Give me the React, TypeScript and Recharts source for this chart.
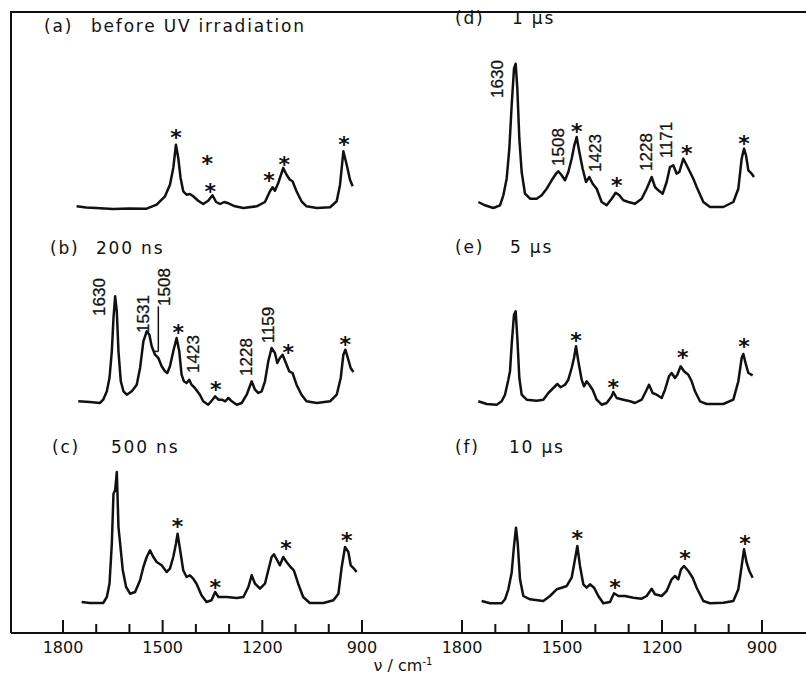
import React from 'react';
import { ComposedChart, Line, XAxis, YAxis, ReferenceDot, ReferenceLine } from 'recharts';

// ---------- data: [wavenumber cm-1, relative intensity] ----------
const spectrumA: [number, number][] = [
  [1759, 1.7], [1730, 0.5], [1700, 0], [1650, -1], [1600, -0.5], [1548, -0.7], [1518, 3.3], [1493, 11.7],
  [1478, 23.3], [1468, 40], [1460, 63.3], [1453, 50], [1446, 30], [1438, 16.7], [1428, 13.3], [1418, 14],
  [1408, 11.7], [1393, 7.3], [1378, 4], [1363, 7.3], [1350, 12.7], [1339, 6], [1327, 4], [1315, 6],
  [1302, 4.7], [1282, 1.7], [1257, 0], [1217, 1.7], [1192, 6], [1177, 16.7], [1169, 20.7], [1162, 17.3],
  [1152, 25], [1137, 40], [1127, 33.3], [1117, 28.3], [1109, 26.7], [1097, 16.7], [1082, 6.7], [1067, 1.7],
  [1036, 0], [996, 0.7], [976, 6.7], [966, 23.3], [956, 56.7], [946, 43.3], [936, 28.3], [928, 21.7],
];
const spectrumB: [number, number][] = [
  [1754, 1.7], [1719, 1], [1689, 0], [1679, 3.3], [1668, 11.7], [1660, 25], [1653, 51.7], [1648, 85],
  [1643, 106.7], [1638, 91.7], [1633, 51.7], [1626, 21.7], [1618, 11.7], [1608, 8.3], [1593, 11.7], [1578, 18.3],
  [1568, 35], [1558, 61.7], [1548, 71.7], [1540, 68.3], [1533, 56.7], [1523, 48.3], [1513, 45], [1503, 36.7],
  [1493, 31.7], [1486, 30], [1478, 36.7], [1468, 51.7], [1458, 65], [1450, 51.7], [1443, 28.3], [1436, 21.7],
  [1428, 20], [1420, 23.3], [1413, 18.3], [1403, 15], [1388, 8.3], [1378, 1.7], [1363, -1.7], [1350, 3.3],
  [1342, 6.7], [1332, 3.3], [1322, 3.3], [1312, 1.7], [1302, 5], [1292, 1.7], [1277, -1.7], [1262, 0],
  [1247, 8.3], [1232, 21.7], [1222, 13.3], [1212, 10], [1202, 11.7], [1192, 21.7], [1182, 41.7], [1172, 55],
  [1162, 50], [1155, 40], [1147, 45], [1139, 48.3], [1129, 40], [1119, 31.7], [1109, 30], [1097, 18.3],
  [1082, 8.3], [1067, 1.7], [1036, 0], [996, 1.7], [976, 8.3], [964, 25], [956, 48.3], [950, 53.3],
  [944, 46.7], [934, 35], [926, 31],
];
const spectrumC: [number, number][] = [
  [1744, 0], [1719, -1], [1679, -1], [1668, 5], [1660, 18.3], [1653, 58.3], [1648, 108.3], [1643, 111.7],
  [1638, 130], [1633, 75], [1628, 58.3], [1620, 31.7], [1610, 15], [1598, 8.3], [1583, 10], [1568, 21.7],
  [1558, 35], [1548, 45], [1538, 51.7], [1528, 45], [1518, 40], [1503, 36.7], [1488, 30], [1478, 33.3],
  [1468, 45], [1460, 58.3], [1455, 68.3], [1448, 53.3], [1438, 31.7], [1428, 25], [1418, 26.7], [1408, 23.3],
  [1398, 18.3], [1383, 6.7], [1368, 0], [1353, 1.7], [1342, 10], [1332, 5], [1307, 5], [1277, 4],
  [1257, 5], [1242, 15], [1232, 26.7], [1222, 18.3], [1207, 13.3], [1192, 18.3], [1182, 31.7], [1172, 45],
  [1165, 47.7], [1155, 41.7], [1147, 36.7], [1137, 45], [1127, 40], [1115, 35], [1105, 31.7], [1092, 18.3],
  [1077, 5], [1057, -1], [1016, -1], [986, 1.7], [971, 8.3], [961, 35], [951, 55], [941, 50],
  [934, 36.7], [924, 33.3], [916, 30],
];
const spectrumD: [number, number][] = [
  [1751, 5], [1731, 1.7], [1706, -1], [1686, 1.7], [1676, 11.7], [1666, 28.3], [1658, 58.3], [1651, 101.7],
  [1644, 138.3], [1639, 143.3], [1634, 118.3], [1628, 68.3], [1621, 35], [1611, 13.3], [1596, 8.3], [1576, 8.3],
  [1561, 11.7], [1546, 18.3], [1531, 26.7], [1518, 33.3], [1511, 35.7], [1501, 31.7], [1491, 26.7], [1481, 35],
  [1471, 48.3], [1463, 61.7], [1456, 70], [1448, 55], [1438, 38.3], [1428, 25], [1418, 30], [1408, 23.3],
  [1396, 18.3], [1381, 5], [1366, 1.7], [1351, 8.3], [1339, 14.3], [1328, 11.7], [1316, 6.7], [1301, 5],
  [1281, 3.3], [1261, 8.3], [1246, 18.3], [1231, 30], [1221, 20], [1211, 16.7], [1198, 13.3], [1186, 25],
  [1176, 40], [1166, 41.7], [1156, 33.3], [1148, 35], [1136, 48.3], [1126, 41.7], [1116, 35], [1106, 28.3],
  [1096, 20], [1076, 5], [1056, 0], [1016, 0], [986, 5], [971, 18.3], [961, 48.3], [954, 58.3],
  [948, 51.7], [941, 36.7], [931, 33.3], [924, 30],
];
const spectrumE: [number, number][] = [
  [1751, 1.7], [1726, -1], [1696, -1.7], [1681, 1.7], [1671, 8.3], [1661, 23.3], [1656, 31.7], [1651, 58.3],
  [1644, 88.3], [1639, 91.7], [1634, 65], [1628, 25], [1621, 8.3], [1606, 3.3], [1576, 2.3], [1556, 3.3],
  [1541, 10], [1526, 15], [1514, 19], [1504, 15.7], [1491, 18.3], [1481, 23.3], [1471, 35], [1464, 45],
  [1458, 56.7], [1451, 41.7], [1441, 23.3], [1434, 16.7], [1426, 21.7], [1418, 18.3], [1408, 13.3], [1396, 3.3],
  [1381, -1.7], [1366, 0], [1351, 6.7], [1346, 11], [1336, 5], [1316, 3.3], [1296, 1.7], [1281, 0],
  [1261, 3.3], [1246, 13.3], [1239, 18.3], [1228, 10], [1216, 8.3], [1201, 5], [1191, 13.3], [1179, 26.7],
  [1171, 30], [1161, 25], [1154, 28.3], [1144, 36.7], [1134, 31.7], [1121, 28.3], [1111, 21.7], [1101, 11.7],
  [1086, 1.7], [1066, -1], [1016, -1], [986, 3.3], [971, 21.7], [961, 45], [956, 49], [948, 38.3],
  [941, 30], [928, 27.7],
];
const spectrumF: [number, number][] = [
  [1741, 1], [1716, -1.3], [1681, -1.3], [1671, 2.7], [1661, 12.7], [1651, 29.3], [1644, 56], [1638, 74.3],
  [1633, 59.3], [1626, 22.7], [1616, 6], [1596, 2.7], [1556, 1], [1536, 6], [1516, 12.7], [1501, 14.3],
  [1486, 16], [1471, 24.3], [1461, 42.7], [1454, 56], [1446, 36], [1436, 17.7], [1426, 14.3], [1416, 17.7],
  [1404, 14.3], [1391, 6], [1376, -1.3], [1356, 0], [1344, 8.7], [1331, 6], [1311, 6], [1286, 4.3],
  [1261, 3.3], [1246, 6], [1231, 13.3], [1221, 7.7], [1201, 6], [1186, 11], [1171, 22.7], [1161, 26],
  [1151, 22.7], [1143, 32.7], [1134, 36], [1121, 31], [1108, 24.3], [1096, 14.3], [1076, 1], [1056, -1.3],
  [1016, -0.7], [986, 1], [971, 12.7], [961, 36], [954, 52.7], [946, 39.3], [938, 31], [928, 24.3],
];

// solvent bands marked with asterisks: [wavenumber, level of the mark]
const starsA: [number, number][] = [[1460, 75], [1366, 49], [1357, 21], [1180, 31.7], [1134, 48.3], [954, 68.3]];
const starsB: [number, number][] = [[1453, 75], [1340, 18.3], [1122, 55], [950, 63.3]];
const starsC: [number, number][] = [[1455, 80], [1342, 19], [1129, 58.3], [946, 65.7]];
const starsD: [number, number][] = [[1456, 80], [1336, 25.7], [1126, 58.3], [954, 68.3]];
const starsE: [number, number][] = [[1458, 66.7], [1346, 20], [1138, 50], [954, 61]];
const starsF: [number, number][] = [[1454, 67.7], [1341, 19.3], [1131, 47.7], [951, 62.7]];

// peak labels: [text, wavenumber, level]
const peaksB: [string, number, number][] = [
  ['1630', 1689, 106], ['1531', 1558, 89], ['1508', 1493, 116], ['1423', 1406, 49], ['1228', 1248, 46], ['1159', 1181, 78],
];
const peaksD: [string, number, number][] = [
  ['1630', 1695, 128], ['1508', 1510, 60], ['1423', 1401, 54], ['1228', 1246, 55], ['1171', 1187, 67],
];
// leader for the 1508 label in (b): [[nu, level], ...]
const leaderB: [number, number][] = [[1513, 96.6], [1513, 51.6], [1525, 51.6]];

const axisTicks = [1800, 1700, 1600, 1500, 1400, 1300, 1200, 1100, 1000, 900];
const majorTicks = [1800, 1500, 1200, 900];

const titles = [
  { tag: '(a)', text: 'before UV irradiation' },
  { tag: '(b)', text: '200 ns' },
  { tag: '(c)', text: '500 ns' },
  { tag: '(d)', text: '1 \u00b5s' },
  { tag: '(e)', text: '5 \u00b5s' },
  { tag: '(f)', text: '10 \u00b5s' },
];

// ---------- layout ----------
const INK = '#111';
const PLOT_ABOVE = 200;
const PLOT_BELOW = 31;
const AXIS_H = 44;
const COL_LEFT = [0, 403];
const COL_MARGIN = [11, 0];
const COL_DOMAIN: [number, number][] = [[776.5, 1956.5], [768, 1977]];

const AxisTick = (props: any) => {
  const { x, y, payload } = props;
  const v = payload.value;
  const major = majorTicks.includes(v);
  return (
    <g>
      <line x1={x} x2={x} y1={y} y2={y - (major ? 13 : 9)} stroke={INK} strokeWidth={2} />
      {major && (
        <text x={x} y={y + 20} textAnchor="middle" fontFamily="'DejaVu Sans', sans-serif" fontSize={16} fill={INK}>
          {v}
        </text>
      )}
    </g>
  );
};

type PanelProps = {
  data: [number, number][];
  stars: [number, number][];
  peaks?: [string, number, number][];
  leader?: [number, number][];
  col: number;
  base: number;
  showAxis: boolean;
};

function Panel({ data, stars, peaks = [], leader, col, base, showAxis }: PanelProps) {
  const rows = data.map(([nu, i]) => ({ nu, i }));
  const h = PLOT_ABOVE + PLOT_BELOW + (showAxis ? AXIS_H : 0);
  return (
    <div style={{ position: 'absolute', left: COL_LEFT[col], top: base - PLOT_ABOVE, width: 403, height: h }}>
      <ComposedChart
        width={403}
        height={h}
        data={rows}
        margin={{ top: 0, right: 0, bottom: 0, left: COL_MARGIN[col] }}
      >
        <XAxis
          dataKey="nu"
          type="number"
          domain={COL_DOMAIN[col]}
          reversed
          allowDataOverflow
          ticks={axisTicks}
          interval={0}
          hide={!showAxis}
          height={AXIS_H}
          tickSize={0}
          tickMargin={0}
          tickLine={false}
          axisLine={{ stroke: INK, strokeWidth: 2 }}
          tick={(p: any) => <AxisTick {...p} />}
        />
        <YAxis hide type="number" domain={[-PLOT_BELOW, PLOT_ABOVE]} allowDataOverflow />
        <Line
          dataKey="i"
          type="linear"
          dot={false}
          stroke={INK}
          strokeWidth={2.5}
          strokeLinejoin="round"
          isAnimationActive={false}
        />
        {leader &&
          leader.slice(1).map((pt, k) => (
            <ReferenceLine
              key={'ld' + k}
              segment={[
                { x: leader[k][0], y: leader[k][1] },
                { x: pt[0], y: pt[1] },
              ]}
              stroke={INK}
              strokeWidth={1.5}
              ifOverflow="visible"
            />
          ))}
        {stars.map(([nu, lvl], k) => (
          <ReferenceDot
            key={'s' + k}
            x={nu}
            y={lvl}
            r={0}
            ifOverflow="visible"
            shape={(p: any) => (
              <text
                x={p.cx}
                y={p.cy + 12}
                textAnchor="middle"
                fontFamily="'DejaVu Sans', sans-serif"
                fontWeight="bold"
                fontSize={22}
                fill={INK}
              >
                *
              </text>
            )}
          />
        ))}
        {peaks.map(([label, nu, lvl], k) => (
          <ReferenceDot
            key={'p' + k}
            x={nu}
            y={lvl}
            r={0}
            ifOverflow="visible"
            shape={(p: any) => (
              <text
                x={p.cx}
                y={p.cy}
                transform={`rotate(-90 ${p.cx} ${p.cy})`}
                textAnchor="middle"
                dominantBaseline="central"
                fontFamily="'Liberation Sans', Arial, sans-serif"
                fontSize={17}
                fill={INK}
                stroke={INK}
                strokeWidth={0.3}
              >
                {label}
              </text>
            )}
          />
        ))}
      </ComposedChart>
    </div>
  );
}

const titlePos = [
  { x: 44, tx: 91, y: 26 },
  { x: 50, tx: 96, y: 248 },
  { x: 52, tx: 111, y: 447 },
  { x: 455, tx: 512, y: 18.5 },
  { x: 455, tx: 510, y: 247 },
  { x: 455, tx: 509, y: 447 },
];

const titleFont: React.CSSProperties = {
  position: 'absolute',
  fontFamily: "'DejaVu Sans', sans-serif",
  fontSize: 17,
  lineHeight: '17px',
  letterSpacing: '1.8px',
  color: INK,
  whiteSpace: 'nowrap',
};

export default function App() {
  return (
    <div style={{ position: 'absolute', left: 0, top: 0, width: 806, height: 676, background: '#fff', overflow: 'hidden' }}>
      <div
        style={{
          position: 'absolute',
          left: 10,
          top: 11,
          width: 796,
          height: 622,
          borderLeft: `2px solid ${INK}`,
          borderTop: `2px solid ${INK}`,
          boxSizing: 'border-box',
        }}
      />
      <Panel data={spectrumA} stars={starsA} col={0} base={208.3} showAxis={false} />
      <Panel data={spectrumB} stars={starsB} peaks={peaksB} leader={leaderB} col={0} base={403.3} showAxis={false} />
      <Panel data={spectrumC} stars={starsC} col={0} base={601.5} showAxis={true} />
      <Panel data={spectrumD} stars={starsD} peaks={peaksD} col={1} base={206.7} showAxis={false} />
      <Panel data={spectrumE} stars={starsE} col={1} base={403.3} showAxis={false} />
      <Panel data={spectrumF} stars={starsF} col={1} base={601.5} showAxis={true} />
      {titles.map((t, k) => (
        <React.Fragment key={k}>
          <div style={{ ...titleFont, left: titlePos[k].x, top: titlePos[k].y - 8.5 }}>{t.tag}</div>
          <div style={{ ...titleFont, left: titlePos[k].tx, top: titlePos[k].y - 8.5 }}>{t.text}</div>
        </React.Fragment>
      ))}
      <div
        style={{
          position: 'absolute',
          left: 366,
          width: 74,
          top: 658,
          textAlign: 'center',
          fontFamily: "'DejaVu Sans', sans-serif",
          fontSize: 16,
          lineHeight: '16px',
          color: INK,
          whiteSpace: 'nowrap',
        }}
      >
        {'\u03bd / cm'}
        <sup style={{ fontSize: 10, lineHeight: 0 }}>{'-1'}</sup>
      </div>
    </div>
  );
}
